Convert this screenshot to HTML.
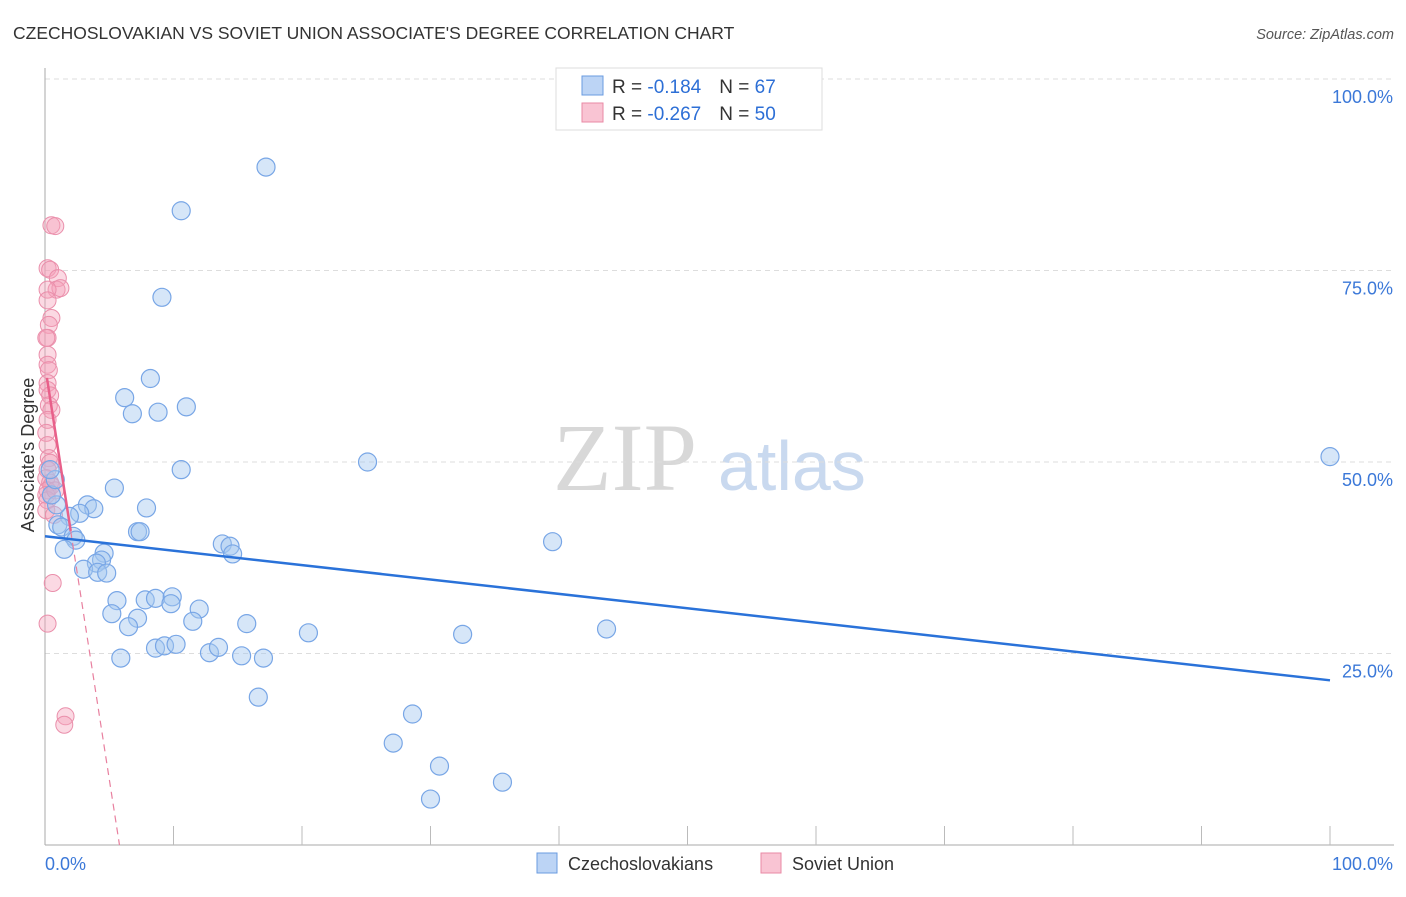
<!DOCTYPE html>
<html><head><meta charset="utf-8"><style>
body{margin:0;background:#fff;font-family:"Liberation Sans",sans-serif;}
svg text{font-family:"Liberation Sans",sans-serif;}
svg text.serif{font-family:"Liberation Serif",serif;}
</style></head><body>
<svg id="c" width="1406" height="892">
<text x="13" y="39" font-size="17.5" fill="#333">CZECHOSLOVAKIAN VS SOVIET UNION ASSOCIATE'S DEGREE CORRELATION CHART</text>
<text x="1394" y="39" font-size="14.5" fill="#555" font-style="italic" text-anchor="end">Source: ZipAtlas.com</text>
<g>
<text class="serif" x="553" y="490" font-size="96" fill="#d8d8d8">ZIP</text>
<text x="718" y="490" font-size="70" fill="#c9d9ef">atlas</text>
</g>
<g id="grid"></g><g id="axes"></g><g id="marks"></g>
<g>
<rect x="556" y="68" width="266" height="62" fill="#fff" stroke="#ddd"/>
<rect x="582" y="76" width="21" height="19" fill="#bcd4f5" stroke="#6a9be0"/>
<rect x="582" y="103" width="21" height="19" fill="#f9c4d3" stroke="#e98aa5"/>
<text x="612" y="93" font-size="19" fill="#333">R = <tspan fill="#2d6fd6">-0.184</tspan><tspan dx="18">N = </tspan><tspan fill="#2d6fd6">67</tspan></text>
<text x="612" y="120" font-size="19" fill="#333">R = <tspan fill="#2d6fd6">-0.267</tspan><tspan dx="18">N = </tspan><tspan fill="#2d6fd6">50</tspan></text>
</g>
<g>
<rect x="537" y="853" width="20" height="20" fill="#bcd4f5" stroke="#6a9be0"/>
<text x="568" y="870" font-size="18" fill="#333">Czechoslovakians</text>
<rect x="761" y="853" width="20" height="20" fill="#f9c4d3" stroke="#e98aa5"/>
<text x="792" y="870" font-size="18" fill="#333">Soviet Union</text>
</g>
<text transform="translate(34,455) rotate(-90)" font-size="18" fill="#333" text-anchor="middle">Associate's Degree</text>
</svg>
<script>
const blueX=[17.2,10.6,9.1,8.2,6.2,6.8,8.8,11.0,10.6,25.1,100,5.4,7.9,3.3,3.8,2.7,1.9,1.0,1.3,0.9,0.5,2.2,2.4,1.5,7.2,7.4,4.6,4.4,4.0,3.0,4.1,4.8,13.8,14.4,14.6,39.5,5.6,5.2,7.2,6.5,7.8,8.6,9.9,9.8,12.0,11.5,15.7,20.5,32.5,43.7,8.6,9.3,10.2,12.8,13.5,15.3,17.0,5.9,16.6,28.6,27.1,30.7,35.6,30.0,0.8,0.4];
const blueY=[88.5,82.8,71.5,60.9,58.4,56.3,56.5,57.2,49.0,50.0,50.7,46.6,44.0,44.4,43.9,43.3,42.9,41.8,41.5,44.4,45.7,40.3,39.8,38.6,40.9,40.9,38.1,37.2,36.8,36.0,35.6,35.5,39.3,39.0,38.0,39.6,31.9,30.2,29.6,28.5,32.0,32.2,32.4,31.5,30.8,29.2,28.9,27.7,27.5,28.2,25.7,26.0,26.2,25.1,25.8,24.7,24.4,24.4,19.3,17.1,13.3,10.3,8.2,6.0,47.7,49.0];
const pinkX=[0.5,0.8,0.2,0.4,1.0,0.9,1.2,0.2,0.2,0.5,0.3,0.2,0.1,0.2,0.2,0.3,0.2,0.2,0.4,0.3,0.5,0.2,0.1,0.2,0.3,0.4,0.2,0.1,0.4,0.5,0.2,0.1,0.2,0.1,0.8,0.7,0.6,0.2,1.6,1.5];
const pinkY=[80.9,80.8,75.3,75.1,74.0,72.5,72.7,72.5,71.1,68.8,67.9,66.2,66.2,64.0,62.7,62.0,60.3,59.4,58.7,57.4,56.8,55.5,53.8,52.2,50.5,49.9,49.0,47.9,47.3,46.9,46.3,45.7,45.0,43.7,46.3,43.1,34.2,28.9,16.8,15.7];
const blueTrend=[40.3,-0.188];
const pinkTrend=[62.6,-10.8];
const yTicks=[100,75,50,25];
const yTickLabels=["100.0%","75.0%","50.0%","25.0%"];
const xTicks=[10,20,30,40,50,60,70,80,90,100];

const NS="http://www.w3.org/2000/svg";
const X=v=>45+v*12.85, Y=v=>845-v*7.66;
function mk(p,tag,a){const e=document.createElementNS(NS,tag);for(const k in a)e.setAttribute(k,a[k]);p.appendChild(e);return e;}
const grid=document.getElementById('grid'),axes=document.getElementById('axes'),marks=document.getElementById('marks');
yTicks.forEach((t,i)=>{
 const l=mk(grid,'line',{x1:45,x2:1394,y1:Y(t),y2:Y(t),stroke:'#ddd','stroke-dasharray':'5,4'});
 
 
 const tx=mk(axes,'text',{x:1393,y:Y(t)+24,'font-size':18,fill:'#3b78d8','text-anchor':'end'});
 tx.textContent=yTickLabels[i];
 
 
});
let a=mk(axes,'line',{x1:45,x2:45,y1:68,y2:845,stroke:'#aaa'});


a=mk(axes,'line',{x1:45,x2:1394,y1:845,y2:845,stroke:'#aaa'});


xTicks.forEach(t=>{const l=mk(axes,'line',{x1:X(t),x2:X(t),y1:826,y2:845,stroke:'#bbb'});
 
 });
let t0=mk(axes,'text',{x:45,y:870,'font-size':18,fill:'#3b78d8'});t0.textContent='0.0%';


let t1=mk(axes,'text',{x:1393,y:870,'font-size':18,fill:'#3b78d8','text-anchor':'end'});t1.textContent='100.0%';


pinkX.forEach((x,i)=>{const c=mk(marks,'circle',{cx:X(x),cy:Y(pinkY[i]),r:8.5,fill:'rgba(244,160,185,0.4)',stroke:'#ea8fab','stroke-width':1});
 
 });
blueX.forEach((x,i)=>{const c=mk(marks,'circle',{cx:X(x),cy:Y(blueY[i]),r:9,fill:'rgba(165,199,240,0.45)',stroke:'#78a6e6','stroke-width':1.2});
 
 });
let bl=mk(marks,'line',{x1:X(0),y1:Y(blueTrend[0]),x2:X(100),y2:Y(blueTrend[0]+100*blueTrend[1]),stroke:'#2a72d9','stroke-width':2.5});


const pf=x=>pinkTrend[0]+pinkTrend[1]*x, x0=-pinkTrend[0]/pinkTrend[1];
let ps=mk(marks,'line',{x1:X(0.15),y1:Y(pf(0.15)),x2:X(2),y2:Y(pf(2)),stroke:'#e8608a','stroke-width':2.5});


let pd=mk(marks,'line',{x1:X(2),y1:Y(pf(2)),x2:X(x0),y2:Y(0),stroke:'#e8809f','stroke-width':1.2,'stroke-dasharray':'7,5'});


</script>
</body></html>
